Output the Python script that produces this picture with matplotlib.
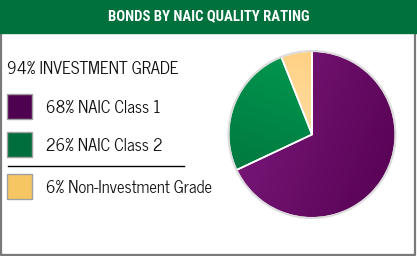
import matplotlib
matplotlib.use("Agg")
import matplotlib.pyplot as plt
import numpy as np
from matplotlib.patches import Rectangle, Circle
from matplotlib.colors import LinearSegmentedColormap

title = "BONDS BY NAIC QUALITY RATING"
group_label = "94% INVESTMENT GRADE"
labels = ["68% NAIC Class 1", "26% NAIC Class 2", "6% Non-Investment Grade"]
shares = [68, 26, 6]
swatch_colors = ["#4E0150", "#006E3D", "#F6C662"]
grad_colors = [("#7E1C7F", "#560052"), ("#00A054", "#006E3A"), ("#FFD185", "#FFE7B8")]

body_font = ["News Cycle", "DejaVu Sans"]
title_font = ["Roboto Condensed", "DejaVu Sans"]

W, H = 417, 256
fig = plt.figure(figsize=(W / 100, H / 100), dpi=100)
ax = fig.add_axes([0, 0, 1, 1])
ax.set_xlim(0, W)
ax.set_ylim(H, 0)
ax.axis("off")

# header band and frame
ax.add_patch(Rectangle((0, 0), W, 32.5, color="#00703C", zorder=2))
ax.plot([1.2, 1.2, 415.3, 415.3], [32, 254.8, 254.8, 32], color="#7A7A7A", lw=1.6, zorder=1)
ax.text(208.5, 16.5, title, color="white", fontsize=10.6, fontweight="bold",
        family=title_font, ha="center", va="center", zorder=3)

# legend
ax.text(7, 68.5, group_label, fontsize=12, family=body_font,
        color="#111111", ha="left", va="center")
sq_y = [94, 132, 174]
for i, lab in enumerate(labels):
    ax.add_patch(Rectangle((7.5, sq_y[i]), 25, 25, facecolor=swatch_colors[i],
                           edgecolor="#A0A0A0", lw=1))
    ax.text(46, sq_y[i] + 14, lab, fontsize=12, family=body_font,
            color="#111111", ha="left", va="center")
ax.plot([8, 184], [165.7, 165.7], color="black", lw=1)

# pie
cx, cy, r = 312, 134.5, 83.5
pad = 1.06
pw = 2 * r * pad
pax = fig.add_axes([(cx - pw / 2) / W, 1 - (cy + pw / 2) / H, pw / W, pw / H])
wedges, _ = pax.pie(shares, startangle=90, counterclock=False,
                    wedgeprops=dict(edgecolor="white", linewidth=1.2))
pax.set_xlim(-pad, pad)
pax.set_ylim(-pad, pad)
pax.set_aspect("equal")
pax.axis("off")

xx, yy = np.meshgrid(np.linspace(-1, 1, 200), np.linspace(-1, 1, 200))
fields = [xx * 0.8 - yy * 0.3, -(yy * 0.8 + xx * 0.3), -yy]
for w, (c0, c1), f in zip(wedges, grad_colors, fields):
    cmap = LinearSegmentedColormap.from_list("g", [c0, c1])
    im = pax.imshow(f, cmap=cmap, extent=[-1, 1, -1, 1], origin="lower", zorder=1)
    im.set_clip_path(w)
    w.set_facecolor("none")
    w.set_zorder(2)
pax.add_patch(Circle((0, 0), 1.0, fill=False, edgecolor="#DCDCDC", lw=1.5, zorder=3))

fig.savefig("out.png", dpi=100)
